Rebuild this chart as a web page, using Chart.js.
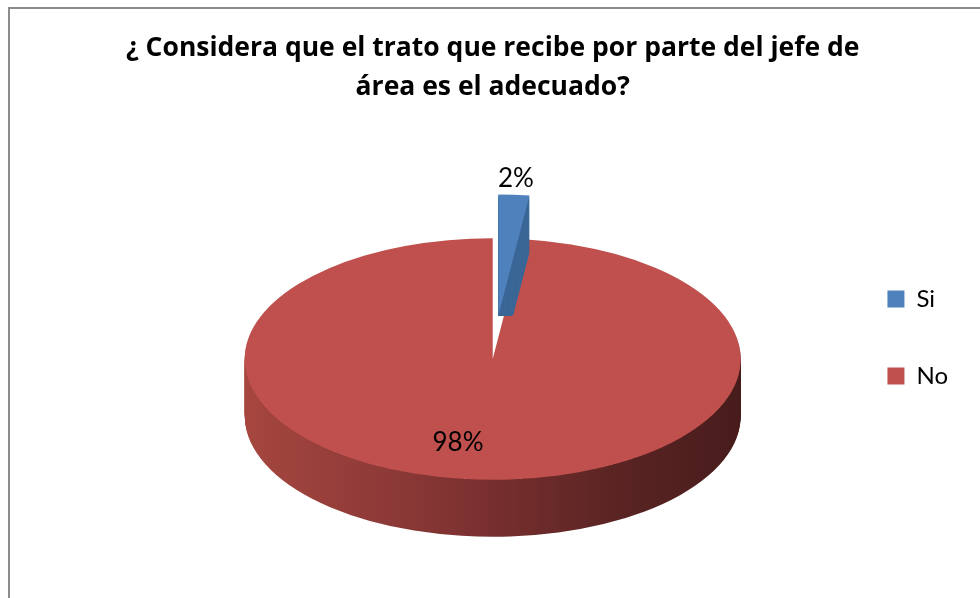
<!DOCTYPE html>
<html>
<head>
<meta charset="utf-8">
<script src="https://cdn.jsdelivr.net/npm/chart.js@4.4.1/dist/chart.umd.min.js"></script>
<style>
  html, body { margin: 0; padding: 0; background: #fff; overflow: hidden; }
  #frame { position: absolute; left: 8px; top: 7px; width: 1200px; height: 800px; border: 2px solid #8c8c8c; }
  #wrap { position: absolute; left: 0; top: 0; width: 980px; height: 598px; }
</style>
</head>
<body>
<div id="frame"></div>
<div id="wrap"><canvas id="pieChart" width="980" height="598"></canvas></div>
<script>

// DATA

const categories = ["Si", "No"];
const percentages = [2, 98];
const percentLabels = ["2%", "98%"];
const titleLines = ["¿ Considera que el trato que recibe por parte del jefe de", "área es el adecuado?"];

const sliceColors = ["#4f81bd", "#c0504d"];


// 3D PIE PLUGIN

function sideFill(ctx, i, p) {
    if (i === 0) return "#3c6797";
    const g = ctx.createLinearGradient(p.x - p.outerRadius, 0, p.x + p.outerRadius, 0);
    g.addColorStop(0, "#a6463f");
    g.addColorStop(0.3, "#8c3937");
    g.addColorStop(0.5, "#772f2e");
    g.addColorStop(0.75, "#5a2423");
    g.addColorStop(1, "#481c1c");
    return g;
}

const pie3d = {
    id: "pie3d",

    beforeDatasetsDraw(chart, args, opts) {
        const ctx = chart.ctx;
        const arcs = chart.getDatasetMeta(0).data;
        const tilt = opts.tilt;
        const cy = arcs[0].y;

        // big slice first, exploded slice on top
        [1, 0].forEach(i => {
            const arc = arcs[i];
            const p = arc.getProps(["x", "y", "startAngle", "endAngle", "outerRadius"], true);
            const mid = (p.startAngle + p.endAngle) / 2;
            const ex = opts.explode[i] || 0;
            const ox = p.x + Math.cos(mid) * ex;
            const oy = p.y + Math.sin(mid) * ex;

            const path = () => {
                ctx.beginPath();
                ctx.moveTo(ox, oy);
                ctx.arc(ox, oy, p.outerRadius, p.startAngle, p.endAngle);
                ctx.closePath();
            };

            // side
            ctx.save();
            ctx.beginPath();
            if (ex) {
                ctx.rect(0, 0, chart.width, cy + (oy - cy) * tilt);
                ctx.clip();
            } else {
                ctx.rect(0, 0, chart.width, chart.height);
                ctx.ellipse(p.x, cy, p.outerRadius, p.outerRadius * tilt, 0, 0, Math.PI * 2);
                ctx.clip("evenodd");
            }
            for (let k = opts.depth; k >= 1; k--) {
                ctx.save();
                ctx.translate(0, cy + k);
                ctx.scale(1, tilt);
                ctx.translate(0, -cy);
                ctx.fillStyle = sideFill(ctx, i, p);
                path();
                ctx.fill();
                ctx.restore();
            }
            ctx.restore();

            // top
            ctx.save();
            ctx.translate(0, cy);
            ctx.scale(1, tilt);
            ctx.translate(0, -cy);
            ctx.fillStyle = arc.options.backgroundColor;
            path();
            ctx.fill();
            ctx.restore();
        });

        return false;
    },

    afterDraw(chart, args, opts) {
        const ctx = chart.ctx;
        const arcs = chart.getDatasetMeta(0).data;
        const tilt = opts.tilt;
        const cy = arcs[0].y;

        ctx.save();
        ctx.font = "26px Lato";
        ctx.fillStyle = "#000";
        ctx.textAlign = "center";
        ctx.textBaseline = "middle";
        arcs.forEach((arc, i) => {
            const p = arc.getProps(["x", "y", "startAngle", "endAngle", "outerRadius"], true);
            const mid = (p.startAngle + p.endAngle) / 2;
            const ex = opts.explode[i] || 0;
            const r = p.outerRadius * opts.labelRadius[i] + ex;
            const lx = p.x + Math.cos(mid) * r + opts.labelShift[i];
            const ly = cy + Math.sin(mid) * r * tilt;
            ctx.fillText(percentLabels[i], lx, ly);
        });
        ctx.restore();
    }
};


// CHART

const ctx = document.getElementById("pieChart").getContext("2d");
const defaultLabels = Chart.overrides.pie.plugins.legend.labels.generateLabels;

new Chart(ctx, {
    type: "pie",

    data: {
        labels: categories,
        datasets: [{
            data: percentages,
            backgroundColor: sliceColors,
            borderWidth: 0,
            radius: 248
        }]
    },

    options: {
        responsive: false,
        animation: false,
        devicePixelRatio: 1,
        layout: { padding: { left: 124, right: 22, top: 104, bottom: 0 } },
        plugins: {
            title: {
                display: true,
                fullSize: false,
                text: titleLines,
                color: "#000",
                font: { family: "'Open Sans'", size: 26.5, weight: "bold", lineHeight: "39px" },
                padding: { top: -75, bottom: 13 }
            },
            legend: {
                position: "right",
                labels: {
                    boxWidth: 17,
                    boxHeight: 17,
                    padding: 26,
                    color: "#000",
                    font: { family: "Lato", size: 24, lineHeight: "51px" },
                    // one-line arrays so the item spacing follows lineHeight
                    generateLabels: chart => defaultLabels(chart).map(item => ({ ...item, text: [item.text] }))
                }
            },
            tooltip: { enabled: false },
            pie3d: {
                tilt: 0.487,
                depth: 57,
                explode: [90, 0],
                labelRadius: [1.13, 0.69],
                labelShift: [0, -24]
            }
        }
    },

    plugins: [pie3d]
});

</script>
</body>
</html>
